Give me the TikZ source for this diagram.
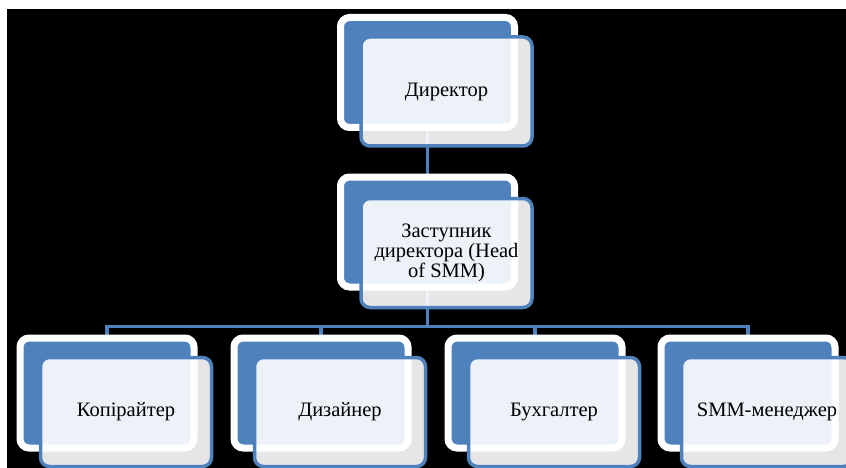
\documentclass[tikz,border=0pt]{standalone}
\usepackage{fontspec}
\setmainfont{Liberation Serif}
\newfontfamily\cardfont{Liberation Serif}
\usetikzlibrary{positioning, calc, backgrounds}
\definecolor{orgblue}{RGB}{79,129,189}

\begin{document}
\begin{tikzpicture}[
    x=1pt, y=-1pt,
    backcard/.style={rectangle, rounded corners=9pt, fill=orgblue, draw=white, line width=7pt, minimum width=174pt, minimum height=110pt},
    frontcard/.style={rectangle, rounded corners=9pt, fill=white, fill opacity=0.9, text opacity=1, draw=orgblue, line width=3.5pt, minimum width=171pt, minimum height=109pt, align=center, font=\cardfont\fontsize{20.5}{20}\selectfont, text=black},
    link/.style={draw=orgblue, line width=3.5pt},
]
\useasboundingbox (0,0) rectangle (846,468);

% === Director ===
\node (dir_b) [backcard] at (427.5,72.5) {};
\node (dir) [frontcard] at ([shift={(19,19)}]dir_b.center) {Директор};

% === Deputy ===
\node (dep_b) [backcard] at (427.5,232) {};
\node (dep) [frontcard] at ([shift={(19,21)}]dep_b.center) {Заступник\\директора (Head\\of SMM)};

% === Staff ===
\node (copy_b) [backcard] at (107,393) {};
\node (copy) [frontcard] at ([shift={(19,19)}]copy_b.center) {Копірайтер};

\node (design_b) [backcard] at (321,393) {};
\node (design) [frontcard] at ([shift={(19,19)}]design_b.center) {Дизайнер};

\node (acct_b) [backcard] at (535,393) {};
\node (acct) [frontcard] at ([shift={(19,19)}]acct_b.center) {Бухгалтер};

\node (smm_b) [backcard] at (748,393) {};
\node (smm) [frontcard] at ([shift={(19,19)}]smm_b.center) {SMM-менеджер};

% === Background and links ===
\begin{scope}[on background layer]
    \fill[black] (7,9) rectangle (846,468);
    \draw[link] (dir_b) -- (dep_b);
    \draw[link] (dep_b.south) -- ++(0,36) -| (copy_b.north);
    \draw[link] (dep_b.south) -- ++(0,36) -| (design_b.north);
    \draw[link] (dep_b.south) -- ++(0,36) -| (acct_b.north);
    \draw[link] (dep_b.south) -- ++(0,36) -| (smm_b.north);
\end{scope}

\end{tikzpicture}
\end{document}
